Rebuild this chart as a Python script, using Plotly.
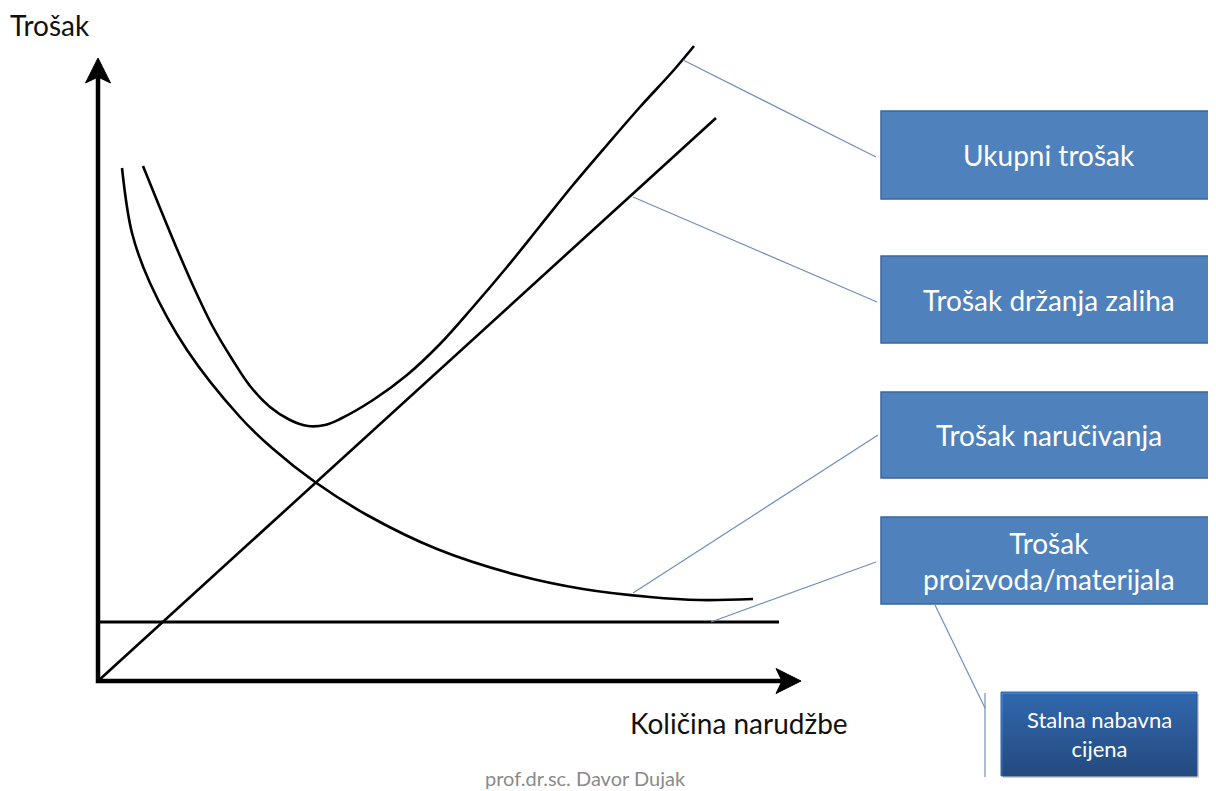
import plotly.graph_objects as go

# ---- data (diagram units: quantity Q to the right, cost C upward; origin at the axes corner)
ordering_q = [24, 34, 52, 89, 142, 174, 217, 269, 339, 419, 485, 552, 602, 655]
ordering_c = [513, 448, 398, 331, 264, 233, 199, 166, 132, 106, 92, 84, 81, 82]

total_q = [45, 62, 79, 97, 115, 134, 152, 172, 192, 210, 227, 242, 275, 309, 342, 375, 409, 442, 475, 509, 542, 575, 596]
total_c = [515, 473, 432, 391, 354, 322, 295, 274, 261, 255, 256, 262, 281, 306, 337, 374, 414, 455, 496, 536, 574, 610, 635]

holding_q = [0, 618]
holding_c = [0, 563]

fixed_q = [0, 681]
fixed_c = [59, 59]

axis_x_end = 703
axis_y_end = 623

box_labels = ["Ukupni trošak", "Trošak držanja zaliha", "Trošak naručivanja",
              "Trošak<br>proizvoda/materijala"]
box_top = [570, 425, 289, 164]
box_bottom = [482, 338, 203, 77]
box_left = 783
box_right = 1130

small_box_label = "Stalna nabavna<br>cijena"
small_box = dict(x0=903, x1=1099, y0=-95, y1=-11)

# leader lines: (q0, c0, q1, c1)
leaders = [
    (585, 621, 778, 524),
    (535, 484, 779, 379),
    (535, 88, 780, 246),
    (613, 59, 778, 119),
    (837, 76, 887, -27),
    (887, -12, 887, -96),
]

y_title = "Trošak"
x_title = "Količina narudžbe"
footer = "prof.dr.sc. Davor Dujak"

FONT = "Lato"
# the page body has an 8px margin; shift the visible window so the drawing lands where it should
OFF = 8

fig = go.Figure()

curve_style = dict(mode="lines", line=dict(color="black", width=2.6, shape="spline", smoothing=1.0),
                   hoverinfo="skip", showlegend=False)
fig.add_trace(go.Scatter(x=ordering_q, y=ordering_c, **curve_style))
fig.add_trace(go.Scatter(x=total_q, y=total_c, **curve_style))
fig.add_trace(go.Scatter(x=holding_q, y=holding_c, mode="lines",
                         line=dict(color="black", width=2.6), hoverinfo="skip", showlegend=False))
fig.add_trace(go.Scatter(x=fixed_q, y=fixed_c, mode="lines",
                         line=dict(color="black", width=2.8), hoverinfo="skip", showlegend=False))

# axes with arrows
AW = 4.5
fig.add_trace(go.Scatter(x=[0, 0, axis_x_end - 10], y=[axis_y_end - 10, 0, 0], mode="lines",
                         line=dict(color="black", width=AW), hoverinfo="skip", showlegend=False))
hl, hw, notch = 25, 12.5, 6
fig.add_trace(go.Scatter(x=[0, -hw, 0, hw, 0],
                         y=[axis_y_end, axis_y_end - hl, axis_y_end - hl + notch, axis_y_end - hl, axis_y_end],
                         mode="lines", fill="toself", fillcolor="black", line=dict(color="black", width=1),
                         hoverinfo="skip", showlegend=False))
fig.add_trace(go.Scatter(x=[axis_x_end, axis_x_end - hl, axis_x_end - hl + notch, axis_x_end - hl, axis_x_end],
                         y=[0, hw, 0, -hw, 0],
                         mode="lines", fill="toself", fillcolor="black", line=dict(color="black", width=1),
                         hoverinfo="skip", showlegend=False))

# leaders
for q0, c0, q1, c1 in leaders:
    fig.add_shape(type="line", x0=q0, y0=c0, x1=q1, y1=c1,
                  line=dict(color="#6f8fbf", width=1.2))

# blue boxes
for lab, t, b in zip(box_labels, box_top, box_bottom):
    fig.add_shape(type="rect", x0=box_left, x1=box_right, y0=b, y1=t,
                  fillcolor="#4f81bd", line=dict(color="#3a659a", width=1.5))
    fig.add_annotation(x=(box_left + 1118) / 2, y=(t + b) / 2, text=lab, showarrow=False,
                       font=dict(family=FONT, size=28, color="white"), align="center")

# small gradient box with shadow
fig.add_shape(type="rect", x0=small_box["x0"] + 2, x1=small_box["x1"] + 2,
              y0=small_box["y0"] - 2, y1=small_box["y1"] - 2,
              fillcolor="rgba(0,0,0,0.18)", line=dict(width=0))
fig.add_trace(go.Scatter(
    x=[small_box["x0"], small_box["x1"], small_box["x1"], small_box["x0"], small_box["x0"]],
    y=[small_box["y0"], small_box["y0"], small_box["y1"], small_box["y1"], small_box["y0"]],
    mode="lines", fill="toself", line=dict(color="#2f64a8", width=1),
    fillgradient=dict(type="vertical", colorscale=[[0, "#2c5b9b"], [1, "#3d80d6"]]),
    hoverinfo="skip", showlegend=False))
fig.add_annotation(x=(small_box["x0"] + small_box["x1"]) / 2, y=(small_box["y0"] + small_box["y1"]) / 2,
                   text=small_box_label, showarrow=False,
                   font=dict(family=FONT, size=22, color="white"), align="center")

# texts
fig.add_annotation(x=-48, y=656, text=y_title, showarrow=False,
                   font=dict(family=FONT, size=28, color="#111111"))
fig.add_annotation(x=641, y=-42, text=x_title, showarrow=False,
                   font=dict(family=FONT, size=28, color="#111111"))
fig.add_annotation(x=487, y=-97, text=footer, showarrow=False,
                   font=dict(family=FONT, size=20, color="#8a8a8a"))

fig.update_layout(
    width=1216, height=791, margin=dict(l=0, r=0, t=0, b=0),
    paper_bgcolor="white", plot_bgcolor="white",
    xaxis=dict(range=[-98 + OFF, 1118 + OFF], visible=False, fixedrange=True),
    yaxis=dict(range=[-110 - OFF, 681 - OFF], visible=False, fixedrange=True),
    showlegend=False,
)
fig.write_html("out.html")
